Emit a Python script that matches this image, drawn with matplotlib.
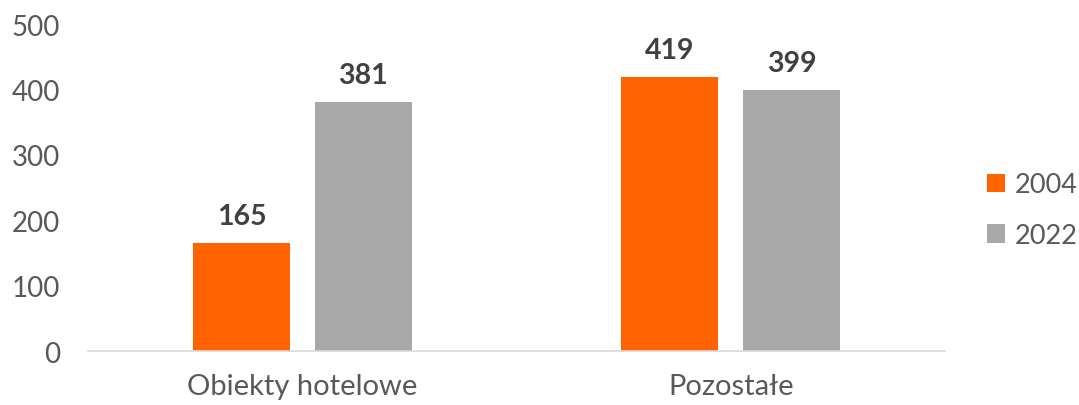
import matplotlib.pyplot as plt
import numpy as np

plt.rcParams["font.family"] = ["Lato", "DejaVu Sans"]

CATEGORIES = ["Obiekty hotelowe", "Pozostałe"]
YEARS = ["2004", "2022"]
VALUES_2004 = [165, 419]
VALUES_2022 = [381, 399]
COLORS = ["#FF6200", "#A8A8A8"]
TEXT_COLOR = "#595959"
LABEL_COLOR = "#404040"


def main():
    fig = plt.figure(figsize=(10.79, 4.06), dpi=100)
    ax = fig.add_axes([0.0816, 0.133, 0.7942, 0.805])

    x = np.arange(len(CATEGORIES))
    w = 0.226
    off = 0.142

    for vals, col, lab, dx in [
        (VALUES_2004, COLORS[0], YEARS[0], -off),
        (VALUES_2022, COLORS[1], YEARS[1], off),
    ]:
        bars = ax.bar(x + dx, vals, w, color=col, label=lab, zorder=2)
        for b, v in zip(bars, vals):
            ax.annotate(
                str(v),
                (b.get_x() + b.get_width() / 2, v),
                xytext=(0, 10),
                textcoords="offset points",
                ha="center",
                va="bottom",
                fontsize=20.5,
                fontweight="bold",
                color=LABEL_COLOR,
            )

    ax.set_xlim(-0.5, 1.5)
    ax.set_ylim(0, 500)
    ax.set_yticks(np.arange(0, 501, 100))
    ax.set_xticks(x, labels=CATEGORIES)

    for s in ["top", "right", "left"]:
        ax.spines[s].set_visible(False)
    ax.spines["bottom"].set_color("#D9D9D9")
    ax.spines["bottom"].set_linewidth(1.2)

    ax.tick_params(axis="y", length=0, pad=20, labelsize=20, labelcolor=TEXT_COLOR)
    ax.tick_params(axis="x", length=0, pad=16, labelsize=21, labelcolor=TEXT_COLOR)

    ax.legend(
        loc="center left",
        bbox_to_anchor=(0.905, 0.48),
        bbox_transform=fig.transFigure,
        borderaxespad=0,
        frameon=False,
        fontsize=19.5,
        labelcolor=TEXT_COLOR,
        handlelength=0.65,
        handleheight=0.65,
        handletextpad=0.35,
        labelspacing=0.95,
    )

    fig.savefig("out.png", dpi=100)


if __name__ == "__main__":
    main()
